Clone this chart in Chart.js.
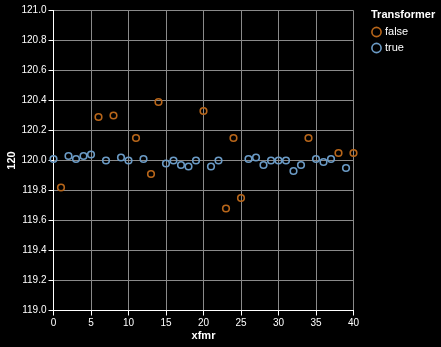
<!DOCTYPE html>
<html>
<head>
<meta charset="utf-8">
<script src="https://cdn.jsdelivr.net/npm/chart.js@4/dist/chart.umd.min.js"></script>
<style>
  html, body { margin: 0; padding: 0; background: #000; }
  #wrap { width: 441px; height: 347px; }
</style>
</head>
<body>
<div id="wrap"><canvas id="chart" width="441" height="347"></canvas></div>
<script>
// readings per transformer index
const xfmr = [0, 1, 2, 3, 4, 5, 6, 7, 8, 9, 10, 11, 12, 13, 14, 15, 16, 17, 18, 19, 20,
              21, 22, 23, 24, 25, 26, 27, 28, 29, 30, 31, 32, 33, 34, 35, 36, 37, 38, 39, 40];
const volts = [120.01, 119.82, 120.03, 120.01, 120.03, 120.04, 120.29, 120.00, 120.30, 120.02, 120.00,
               120.15, 120.01, 119.91, 120.39, 119.98, 120.00, 119.97, 119.96, 120.00, 120.33,
               119.96, 120.00, 119.68, 120.15, 119.75, 120.01, 120.02, 119.97, 120.00, 120.00,
               120.00, 119.93, 119.97, 120.15, 120.01, 119.99, 120.01, 120.05, 119.95, 120.05];
const transformer = [true, false, true, true, true, true, false, true, false, true, true,
                     false, true, false, false, true, true, true, true, true, false,
                     true, true, false, false, false, true, true, true, true, true,
                     true, true, true, false, true, true, true, false, true, false];

const groups = ['false', 'true'];
const colors = { 'false': '#b8661a', 'true': '#6b9bc6' };
const font = '"Liberation Sans", Arial, sans-serif';

function pointsFor(flag) {
  const out = [];
  xfmr.forEach((x, i) => {
    if (String(transformer[i]) === flag) out.push({ x: x, y: volts[i] });
  });
  return out;
}

// black backdrop, axis titles and the side legend
const decor = {
  id: 'decor',
  beforeDraw(chart) {
    const ctx = chart.ctx;
    ctx.save();
    ctx.fillStyle = '#000';
    ctx.fillRect(0, 0, chart.width, chart.height);
    ctx.restore();
  },
  afterDraw(chart) {
    const ctx = chart.ctx;
    const a = chart.chartArea;
    ctx.save();
    ctx.fillStyle = '#fff';
    ctx.font = 'bold 11px ' + font;
    ctx.textAlign = 'center';
    ctx.textBaseline = 'middle';
    ctx.fillText('xfmr', (a.left + a.right) / 2, 336);

    ctx.save();
    ctx.translate(12, (a.top + a.bottom) / 2);
    ctx.rotate(-Math.PI / 2);
    ctx.fillText('120', 0, 0);
    ctx.restore();

    ctx.textAlign = 'left';
    ctx.fillText('Transformer', 371, 15);
    ctx.font = '11px ' + font;
    groups.forEach((g, i) => {
      const y = 32 + i * 16;
      ctx.beginPath();
      ctx.arc(376.5, y, 4.6, 0, Math.PI * 2);
      ctx.strokeStyle = colors[g];
      ctx.lineWidth = 1.6;
      ctx.stroke();
      ctx.fillStyle = '#fff';
      ctx.fillText(g, 385, y);
    });
    ctx.restore();
  }
};

new Chart(document.getElementById('chart'), {
  type: 'scatter',
  data: {
    datasets: groups.map(g => ({
      label: g,
      data: pointsFor(g),
      borderColor: colors[g],
      backgroundColor: 'rgba(0,0,0,0)',
      borderWidth: 1.6,
      pointRadius: 3.3,
      pointHoverRadius: 3.3,
      clip: false
    }))
  },
  options: {
    responsive: false,
    animation: false,
    layout: { padding: { left: 0, top: 10.5, right: 87.5, bottom: 0 } },
    plugins: { legend: { display: false }, tooltip: { enabled: false } },
    scales: {
      x: {
        type: 'linear',
        min: 0,
        max: 40,
        ticks: { stepSize: 5, color: '#fff', font: { family: font, size: 10 }, padding: 2, maxRotation: 0 },
        grid: { color: '#8a8a8a', lineWidth: 1, tickLength: 5, tickColor: '#fff' },
        border: { color: '#fff', width: 1 },
        afterFit(scale) { scale.height = 36.5; }
      },
      y: {
        min: 119,
        max: 121,
        ticks: {
          stepSize: 0.2,
          color: '#fff',
          font: { family: font, size: 10 },
          padding: 2,
          callback: v => Number(v).toFixed(1)
        },
        grid: { color: '#8a8a8a', lineWidth: 1, tickLength: 5, tickColor: '#fff' },
        border: { color: '#fff', width: 1 },
        afterFit(scale) { scale.width = 53.5; }
      }
    }
  },
  plugins: [decor]
});
</script>
</body>
</html>
